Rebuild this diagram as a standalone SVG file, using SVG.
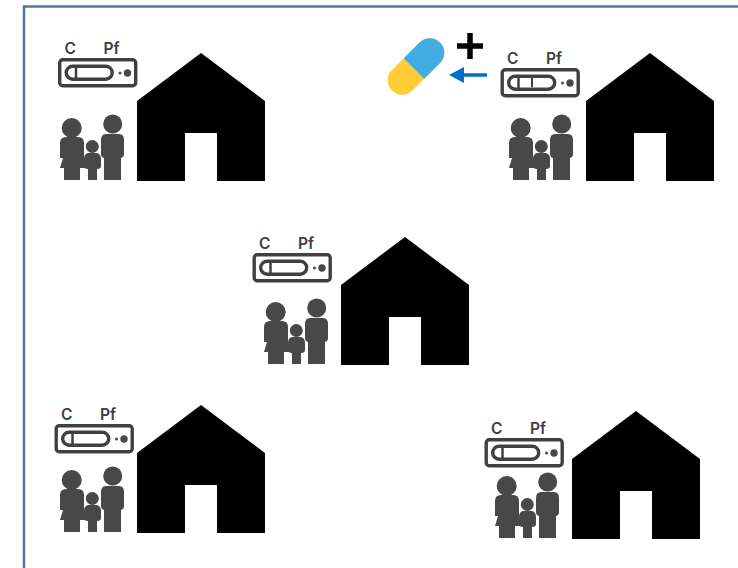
<svg xmlns="http://www.w3.org/2000/svg" width="738" height="568" viewBox="0 0 738 568">
<style>
.t{font-family:Inter,"Liberation Sans",sans-serif;font-weight:600;font-size:15.500px;fill:#404040}
.ln{fill:none;stroke:#404040}
.fam{fill:#484848}
</style>
<defs>
<g id="house"><path d="M64 0L128 48V128H80V80H48V128H0V48Z" fill="#000"/></g>
<g id="test">
<text class="t" x="64.500" y="53.500">C</text><text class="t" x="103.500" y="53.500">Pf</text>
<rect class="ln" x="59.700" y="59.700" width="76" height="26" rx="3" stroke-width="3.400"/>
<rect class="ln" x="66.200" y="66.200" width="46" height="13" rx="6.500" stroke-width="3.400"/>
<path class="ln" d="M76 66V79" stroke-width="2.500"/>
<circle class="fam" cx="120" cy="73" r="1.500"/><circle class="fam" cx="127.500" cy="73" r="3.700"/>
</g>
<g id="family" class="fam">
<circle cx="71.700" cy="128" r="10"/>
<path d="M66 137H78Q84 137 84 143V158L87 168H80V180H64V168H60L63 158H60V143Q60 137 66 137Z"/>
<circle cx="92.300" cy="146.500" r="6.500"/>
<path d="M88 153H97Q101 154 101 159V166Q101 169 97 169V180H88V169Q84 169 84 166V159Q84 154 88 153Z"/>
<circle cx="112.700" cy="124" r="9.500"/>
<path d="M106 134H119Q124 134 124 140V154Q124 157 121 158V180H104V158Q101 157 101 154V140Q101 134 106 134Z"/>
</g>
</defs>
<path d="M24 568V6.500H738" fill="none" stroke="#4a78a8" stroke-width="2.500"/>
<g id="node-1"><use href="#test"/><use href="#family"/><use href="#house" x="137" y="53"/></g>
<g id="node-2"><use href="#test" x="442.500" y="10"/><path class="ln" d="M532 75V87" stroke-width="2"/><use href="#family" x="449"/><use href="#house" x="586" y="53"/>
<g id="pill" transform="rotate(-45 416 66.500)"><rect x="382" y="52" width="68" height="29" rx="14.500" fill="#ffcc33"/><path d="M413.200 52H435.500A14.500 14.500 0 0 1 435.500 81H413.200Z" fill="#42ade2"/></g>
<path d="M470 33V59M457 46H483" stroke="#000" stroke-width="5.500" fill="none"/>
<path d="M487 75H462" stroke="#0070c0" stroke-width="3.500"/><path d="M449 75L464 67V83Z" fill="#0070c0"/></g>
<g id="node-3"><use href="#test" x="194.500" y="195"/><use href="#family" x="204" y="184"/><use href="#house" x="341" y="237"/></g>
<g id="node-4"><use href="#test" x="-3.500" y="366"/><use href="#family" y="352"/><use href="#house" x="137" y="405"/></g>
<g id="node-5"><use href="#test" x="426.500" y="380"/><use href="#family" x="435" y="358"/><use href="#house" x="572" y="411"/></g>
<g id="connectors"/>
</svg>
